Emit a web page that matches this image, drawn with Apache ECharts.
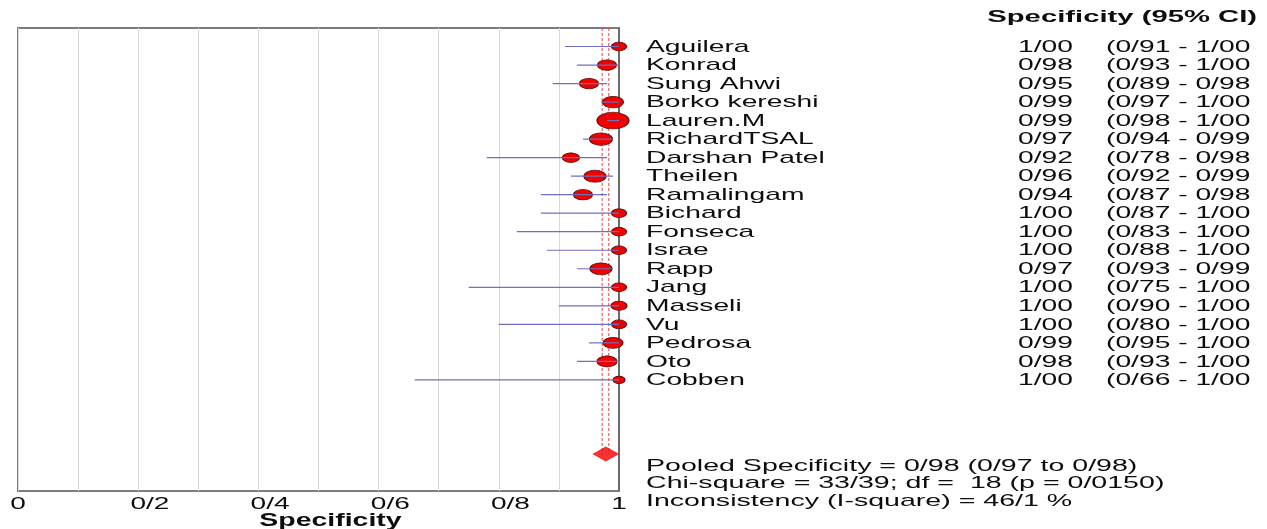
<!DOCTYPE html>
<html>
<head>
<meta charset="utf-8">
<script src="https://cdn.jsdelivr.net/npm/echarts@6/dist/echarts.min.js"></script>
<style>
html,body{margin:0;padding:0;background:#ffffff;}
#chart{width:1267px;height:529px;}
</style>
</head>
<body>
<div id="chart"></div>
<script>
// ---------------- data ----------------
const studies = ['Aguilera','Konrad','Sung Ahwi','Borko kereshi','Lauren.M','RichardTSAL','Darshan Patel','Theilen','Ramalingam','Bichard','Fonseca','Israe','Rapp','Jang','Masseli','Vu','Pedrosa','Oto','Cobben'];
const spec   = [1.00,0.98,0.95,0.99,0.99,0.97,0.92,0.96,0.94,1.00,1.00,1.00,0.97,1.00,1.00,1.00,0.99,0.98,1.00];
const lower  = [0.91,0.93,0.89,0.97,0.98,0.94,0.78,0.92,0.87,0.87,0.83,0.88,0.93,0.75,0.90,0.80,0.95,0.93,0.66];
const upper  = [1.00,1.00,0.98,1.00,1.00,0.99,0.98,0.99,0.98,1.00,1.00,1.00,0.99,1.00,1.00,1.00,1.00,1.00,1.00];
// relative study weights (%)
const weights = [3.3,5.2,5.2,6.4,14.9,7.7,4.2,7.0,5.2,3.3,3.3,3.3,7.0,3.3,3.7,3.3,5.8,5.8,2.1];
const pooledEstimate = [0.978];
const pooledBounds = [0.972, 0.983];
const pooledRow = [22];
const tickValues = [0, 0.2, 0.4, 0.6, 0.8, 1];
const tickLabels = ['0', '0/2', '0/4', '0/6', '0/8', '1'];
const headerText = ['Specificity (95% CI)'];
const axisTitle = ['Specificity'];
const footerLines = ['Pooled Specificity = 0/98 (0/97 to 0/98)', 'Chi-square = 33/39; df =  18 (p = 0/0150)', 'Inconsistency (I-square) = 46/1 %'];

// ---------------- helpers ----------------
const fmt = v => v.toFixed(2).replace('.', '/');
const FAMILY = '"Liberation Sans", Arial, Helvetica, sans-serif';
const TEXT_COLOR = '#0d0d0d';
function textEl(text, x, y, size, sx, align, bold) {
  return {
    type: 'text', x: x, y: y, scaleX: sx, scaleY: 1,
    style: {
      text: text, fill: TEXT_COLOR,
      font: (bold ? 'bold ' : '') + size + 'px ' + FAMILY,
      textAlign: align, textVerticalAlign: 'middle',
      align: align, verticalAlign: 'middle'
    }
  };
}
const ROW_SIZE = 17, ROW_SX = 1.66;
const COL_NAME = 646, COL_VAL = 1018, COL_CI = 1106, COL_RIGHT = 1257;

const chart = echarts.init(document.getElementById('chart'), null, {renderer: 'canvas'});

const option = {
  animation: false,
  backgroundColor: '#ffffff',
  grid: { left: 18, right: 648, top: 28, bottom: 38, show: true, borderColor: '#7c7c7c', borderWidth: 2, backgroundColor: 'transparent' },
  xAxis: {
    type: 'value', min: 0, max: 1, interval: 0.1,
    axisLine: { show: false }, axisTick: { show: false }, axisLabel: { show: false },
    splitLine: { show: true, lineStyle: { color: '#d9d9d9', width: 1 } }
  },
  yAxis: {
    type: 'value', min: -1, max: 24, inverse: true, show: false,
    splitLine: { show: false }
  },
  series: [
    // pooled CI dashed guide lines
    {
      type: 'line', silent: true, showSymbol: false, z: 2,
      lineStyle: { color: '#e04848', width: 1, type: [3, 2] },
      data: [[pooledBounds[0], -1], [pooledBounds[0], pooledRow[0]]]
    },
    {
      type: 'line', silent: true, showSymbol: false, z: 2,
      lineStyle: { color: '#e04848', width: 1, type: [3, 2] },
      data: [[pooledBounds[1], -1], [pooledBounds[1], pooledRow[0]]]
    },
    // right edge (value 1)
    {
      type: 'line', silent: true, showSymbol: false, z: 2,
      lineStyle: { color: '#6a6a6a', width: 2 },
      data: [[1, -1], [1, 24]]
    },
    // study markers
    {
      type: 'scatter', silent: true, z: 3,
      symbol: 'circle',
      symbolSize: function (val, params) {
        const w = 8.25 * Math.sqrt(weights[params.dataIndex]);
        return [w, 0.48 * w + 1.5];
      },
      itemStyle: { color: '#f20000', borderColor: '#5e0c0c', borderWidth: 1, opacity: 1 },
      data: spec.map((v, i) => [v, i])
    },
    // confidence interval lines
    {
      type: 'custom', silent: true, z: 4, clip: false,
      encode: { x: [0, 1], y: 2 },
      data: lower.map((lo, i) => [lo, upper[i], i]),
      renderItem: function (params, api) {
        const p1 = api.coord([api.value(0), api.value(2)]);
        const p2 = api.coord([api.value(1), api.value(2)]);
        return { type: 'line', shape: { x1: p1[0], y1: p1[1], x2: p2[0], y2: p2[1] },
                 style: { stroke: '#6f6fbd', lineWidth: 1.2 } };
      }
    },
    // pooled diamond
    {
      type: 'scatter', silent: true, z: 5, symbol: 'diamond', symbolSize: [27, 15],
      itemStyle: { color: '#f20000' },
      data: [[pooledEstimate[0], pooledRow[0]]]
    },
    // study text rows
    {
      type: 'custom', silent: true, z: 6, clip: false,
      encode: { x: 0, y: 1 },
      data: studies.map((n, i) => [1, i]),
      renderItem: function (params, api) {
        const i = params.dataIndex;
        const y = api.coord([1, api.value(1)])[1] + 0.5;
        return { type: 'group', children: [
          textEl(studies[i], COL_NAME, y, ROW_SIZE, ROW_SX, 'left', false),
          textEl(fmt(spec[i]), COL_VAL, y, ROW_SIZE, ROW_SX, 'left', false),
          textEl('(' + fmt(lower[i]) + ' - ' + fmt(upper[i]), COL_CI, y, ROW_SIZE, ROW_SX, 'left', false)
        ]};
      }
    },
    // header
    {
      type: 'custom', silent: true, z: 6, clip: false,
      encode: { x: 0, y: 1 },
      data: [[1, -1]],
      renderItem: function (params, api) {
        const y = api.coord([1, -1])[1] - 10.5;
        return textEl(headerText[0], COL_RIGHT, y, 17, 1.72, 'right', true);
      }
    },
    // footer statistics
    {
      type: 'custom', silent: true, z: 6, clip: false,
      encode: { x: 0, y: 1 },
      data: footerLines.map((t, k) => [1, pooledRow[0]]),
      renderItem: function (params, api) {
        const k = params.dataIndex;
        const y = api.coord([1, api.value(1)])[1] + 12 + k * 17.5;
        return textEl(footerLines[k], COL_NAME, y, ROW_SIZE, 1.68, 'left', false);
      }
    },
    // x tick labels (first glyph centred on the tick)
    {
      type: 'custom', silent: true, z: 6, clip: false,
      encode: { x: 0, y: 1 },
      data: tickValues.map(v => [v, 24]),
      renderItem: function (params, api) {
        const p = api.coord([api.value(0), 24]);
        const size = 16, sx = 1.75;
        const half = 0.556 * size * sx / 2;
        return textEl(tickLabels[params.dataIndex], p[0] - half, p[1] + 13.5, size, sx, 'left', false);
      }
    },
    // x axis title
    {
      type: 'custom', silent: true, z: 6, clip: false,
      encode: { x: 0, y: 1 },
      data: [[0.5, 24]],
      renderItem: function (params, api) {
        const p = api.coord([0.5, 24]);
        return textEl(axisTitle[0], p[0] + 12, p[1] + 30.5, 18, 1.58, 'center', true);
      }
    }
  ]
};
chart.setOption(option);
</script>
</body>
</html>
